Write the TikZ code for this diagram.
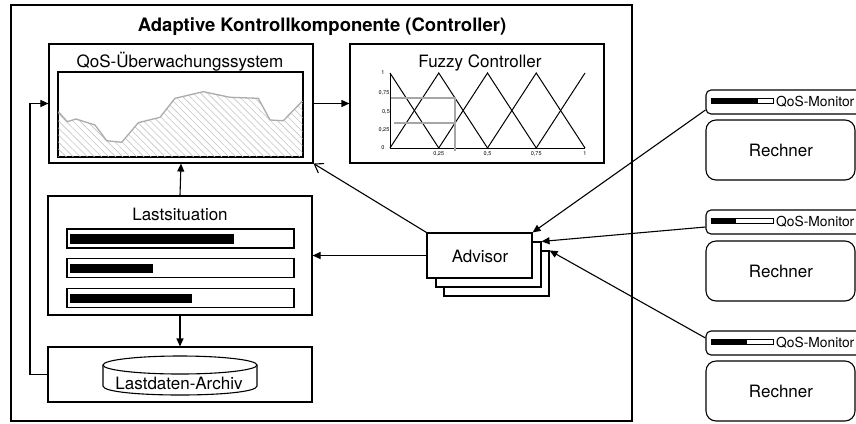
\documentclass[tikz,border=0pt]{standalone}
\usepackage{fontspec}
\setmainfont{TeX Gyre Heros}
\usetikzlibrary{arrows.meta,patterns.meta,calc}
\begin{document}
\begin{tikzpicture}[x=1bp,y=-1bp,
  box/.style={draw,line width=1.1bp,inner sep=0pt,fill=white},
  rbox/.style={draw,line width=1.1bp,inner sep=0pt,rounded corners=10bp,fill=white},
  mbox/.style={draw,line width=1.1bp,inner sep=0pt,rounded corners=5bp,fill=white},
  lbl/.style={font=\fontsize{17bp}{20bp}\selectfont,inner sep=0pt,anchor=base},
  mlbl/.style={font=\fontsize{13.8bp}{16bp}\selectfont,inner sep=0pt,anchor=base west},
  tiny/.style={font=\fontsize{5.5bp}{6bp}\selectfont,inner sep=0pt},
  ar/.style={line width=1.1bp,-{Triangle[length=8bp,width=7bp]}},
  oar/.style={line width=1.1bp,-{Straight Barb[length=8bp,width=11bp]}},
  fline/.style={line width=1bp},
  gline/.style={line width=1.3bp,draw=gray!70},
]
\useasboundingbox (0,0) rectangle (856,423);

% outer component
\node[box,minimum width=621bp,minimum height=416bp] (outer) at (321.5,213) {};
\node[font=\bfseries\fontsize{18.5bp}{21bp}\selectfont,inner sep=0pt,anchor=base] (title) at (322,31) {Adaptive Kontrollkomponente (Controller)};

% QoS monitoring system
\node[box,minimum width=264bp,minimum height=119bp] (qos) at (181,103.5) {};
\node[lbl] (qost) at (180,67) {QoS-Überwachungssystem};
\node[box,minimum width=245bp,minimum height=85bp] (qoschart) at (180.5,114.5) {};
\fill[pattern={Lines[angle=-45,distance=5bp,line width=0.6bp]},pattern color=gray!45]
  (58.3,157) -- (58.3,111.7) -- (67.3,121.7) -- (76,119) -- (95,125) -- (106.7,140.7)
  -- (121.7,142.3) -- (138.3,122.7) -- (160,117.3) -- (175,98.3) -- (203.3,91.7)
  -- (230,97.3) -- (258.3,98.3) -- (270,120) -- (283.3,120.7) -- (302.5,101) -- (302.5,157) -- cycle;
\draw[line width=1.3bp,draw=gray!65,line join=round]
  (58.3,111.7) -- (67.3,121.7) -- (76,119) -- (95,125) -- (106.7,140.7)
  -- (121.7,142.3) -- (138.3,122.7) -- (160,117.3) -- (175,98.3) -- (203.3,91.7)
  -- (230,97.3) -- (258.3,98.3) -- (270,120) -- (283.3,120.7) -- (302.5,101);
\draw[line width=1.1bp] (qoschart.north west) rectangle (qoschart.south east);

% Fuzzy controller
\node[box,minimum width=254bp,minimum height=119bp] (fuzzy) at (477,103.5) {};
\node[lbl] (fuzzyt) at (480,67) {Fuzzy Controller};
\draw[fline] (390,73) -- (390,148) -- (585,148);
\draw[fline] (390,73) -- (438.75,148);
\draw[fline] (390,148) -- (438.75,73) -- (487.5,148);
\draw[fline] (438.75,148) -- (487.5,73) -- (536.25,148);
\draw[fline] (487.5,148) -- (536.25,73) -- (585,148);
\draw[fline] (536.25,148) -- (585,73);
\draw[gline] (391,98) -- (455,98) (394,123) -- (455,123) (455,98) -- (455,151);
\node[tiny] (y1) at (383,73) {1};
\node[tiny] (y75) at (384,93) {0,75};
\node[tiny] (y5) at (386,112) {0,5};
\node[tiny] (y25) at (384,130) {0,25};
\node[tiny] (y0) at (383,148) {0};
\node[tiny] (x25) at (438.75,154) {0,25};
\node[tiny] (x5) at (487.5,154) {0,5};
\node[tiny] (x75) at (536.25,154) {0,75};
\node[tiny] (x1) at (585,154) {1};

% Lastsituation
\node[box,minimum width=264bp,minimum height=119bp] (last) at (180,255.5) {};
\node[lbl] (lastt) at (180,220) {Lastsituation};
\node[box,minimum width=227bp,minimum height=19bp] (bar1) at (180.5,238.5) {};
\node[box,minimum width=227bp,minimum height=19bp] (bar2) at (180.5,268) {};
\node[box,minimum width=227bp,minimum height=19bp] (bar3) at (180.5,298) {};
\fill (70,234) rectangle (234,243.5);
\fill (70,263.5) rectangle (153,273);
\fill (70,293.5) rectangle (192,303);

% Archive
\node[box,minimum width=264bp,minimum height=55bp] (arch) at (180,374.5) {};
\draw[line width=1.1bp,fill=white] (103,365) -- (103,386) .. controls (103,398) and (257,398) .. (257,386) -- (257,365);
\draw[line width=1.1bp,fill=white] (180,365) ellipse[x radius=77,y radius=9];
\node[lbl] (archt) at (179,389.5) {Lastdaten-Archiv};

% Advisor stack
\node[box,minimum width=105bp,minimum height=45bp] (adv3) at (496.5,273.5) {};
\node[box,minimum width=105bp,minimum height=45bp] (adv2) at (488.5,264.5) {};
\node[box,minimum width=105bp,minimum height=45bp] (adv) at (479.5,255.5) {};
\node[lbl] (advt) at (480,262) {Advisor};

% Rechner with QoS monitors
\foreach \i/\mc/\rc/\fx in {1/102/150/758,2/222/271/736,3/343/391/747}{
  \node[mbox,minimum width=160bp,minimum height=24bp] (m\i) at (786,\mc) {};
  \node[rbox,minimum width=149bp,minimum height=60bp] (r\i) at (780.5,\rc) {};
  \node[lbl] (rt\i) at (781,\rc+6) {Rechner};
  \node[draw,line width=1bp,inner sep=0pt,minimum width=62bp,minimum height=5bp] (mb\i) at (742,\mc-1) {};
  \fill (mb\i.north west) rectangle (\fx,\mc+1.5);
  \node[mlbl] (mt\i) at (776,\mc+4.5) {QoS-Monitor};
}

% connectors
\draw[ar] (arch.west) -- (30,374.5) |- (qos.west);
\draw[ar] (qos.east) -- (fuzzy.west);
\draw[ar] (last.north) -- (qos.south);
\draw[ar] (last.south) -- (arch.north);
\draw[ar] (adv.west) -- (last.east |- adv.west);
\draw[oar] (adv.north west) -- (qos.south east);
\draw[ar] ($(m1.west)+(0,8)$) -- (adv.north east);
\draw[ar] ($(m2.west)+(0,5)$) -- (adv2.north east);
\draw[ar] ($(m3.west)+(0,-5)$) -- (adv3.north east);
\end{tikzpicture}
\end{document}
